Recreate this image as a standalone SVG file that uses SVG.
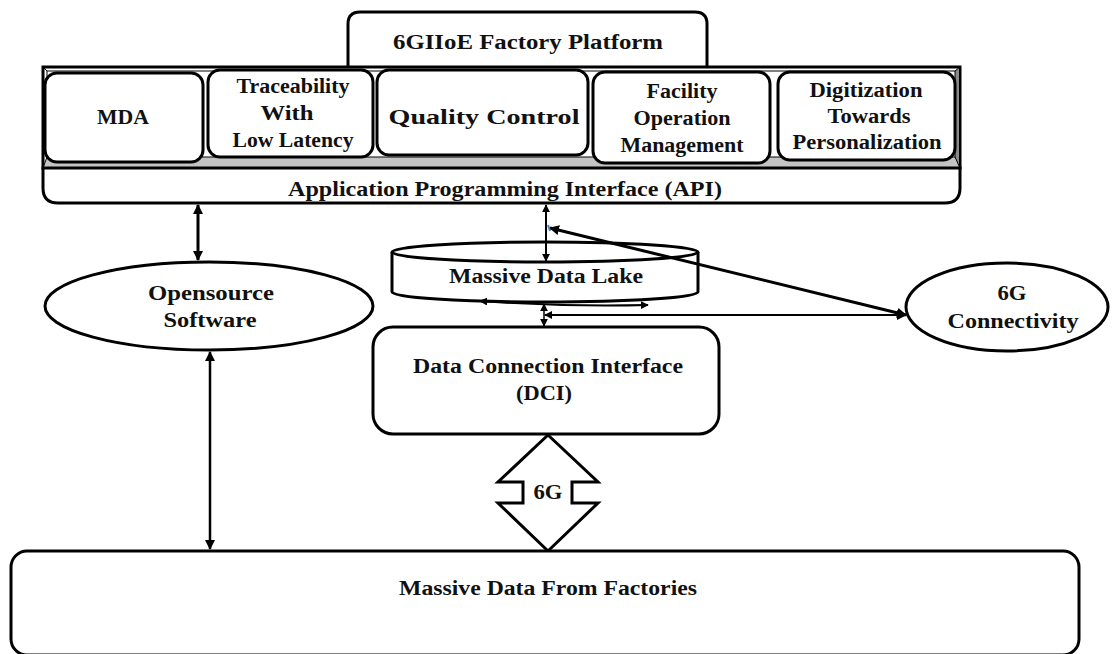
<svg xmlns="http://www.w3.org/2000/svg" width="1112" height="654" viewBox="0 0 1112 654">
  <defs>
    <style>
      .box { fill: #ffffff; stroke: #000000; stroke-width: 3; }
      .lbl { font-family: "Liberation Serif", "DejaVu Serif", serif; font-weight: bold; font-size: 20.5px; fill: #111111; text-anchor: middle; }
      .wire { fill: none; stroke: #000000; }
    </style>
    <marker id="head" viewBox="0 0 10 10" refX="9" refY="5" markerWidth="10" markerHeight="10" markerUnits="userSpaceOnUse" orient="auto-start-reverse">
      <path d="M0,0 L10,5 L0,10 z" fill="#000000"/>
    </marker>
    <marker id="headSmall" viewBox="0 0 10 10" refX="9" refY="5" markerWidth="8" markerHeight="8" markerUnits="userSpaceOnUse" orient="auto-start-reverse">
      <path d="M0,0 L10,5 L0,10 z" fill="#000000"/>
    </marker>
  </defs>

  <rect width="1112" height="654" fill="#ffffff"/>

  <!-- platform title tab -->
  <g id="platform-title">
    <path class="box" d="M348,67 L348,24 Q348,12 360,12 L695,12 Q707,12 707,24 L707,67"/>
    <text class="lbl" x="528" y="49" textLength="270" lengthAdjust="spacingAndGlyphs">6GIIoE Factory Platform</text>
  </g>

  <!-- beveled frame holding the application tiles -->
  <g id="platform-frame">
    <rect x="43" y="67" width="917" height="101" fill="#ffffff" stroke="#000000" stroke-width="3"/>
    <polygon points="44,167 959,167 955,157 47,157" fill="#c4c4c4"/>
    <polygon points="959,68 959,167 955,157 955,71" fill="#8a8a8a"/>
    <rect x="47" y="71" width="908" height="86" fill="none" stroke="#000000" stroke-width="1"/>
    <line x1="43" y1="67" x2="47" y2="71" stroke="#000000" stroke-width="1"/>
    <line x1="43" y1="168" x2="47" y2="157" stroke="#000000" stroke-width="1"/>
    <line x1="960" y1="67" x2="955" y2="71" stroke="#000000" stroke-width="1"/>
    <line x1="960" y1="168" x2="955" y2="157" stroke="#000000" stroke-width="1"/>
  </g>

  <g id="tile-mda">
    <rect class="box" x="45" y="73" width="158" height="89" rx="12"/>
    <text class="lbl" x="123" y="124" textLength="52" lengthAdjust="spacingAndGlyphs">MDA</text>
  </g>

  <g id="tile-traceability">
    <rect class="box" x="208" y="70" width="165" height="87" rx="12"/>
    <text class="lbl" x="293" y="93" textLength="113" lengthAdjust="spacingAndGlyphs">Traceability</text>
    <text class="lbl" x="287" y="120" textLength="53" lengthAdjust="spacingAndGlyphs">With</text>
    <text class="lbl" x="293" y="147" textLength="121" lengthAdjust="spacingAndGlyphs">Low Latency</text>
  </g>

  <g id="tile-quality">
    <rect class="box" x="377" y="70" width="211" height="85" rx="12"/>
    <text class="lbl" x="484" y="124" textLength="191" lengthAdjust="spacingAndGlyphs">Quality Control</text>
  </g>

  <g id="tile-facility">
    <rect class="box" x="593" y="72" width="177" height="91" rx="12"/>
    <text class="lbl" x="682" y="98" textLength="71" lengthAdjust="spacingAndGlyphs">Facility</text>
    <text class="lbl" x="682" y="125" textLength="97" lengthAdjust="spacingAndGlyphs">Operation</text>
    <text class="lbl" x="682" y="152" textLength="123" lengthAdjust="spacingAndGlyphs">Management</text>
  </g>

  <g id="tile-digitization">
    <rect class="box" x="778" y="72" width="177" height="88" rx="12"/>
    <text class="lbl" x="866" y="97" textLength="113" lengthAdjust="spacingAndGlyphs">Digitization</text>
    <text class="lbl" x="869" y="123" textLength="83" lengthAdjust="spacingAndGlyphs">Towards</text>
    <text class="lbl" x="867" y="149" textLength="149" lengthAdjust="spacingAndGlyphs">Personalization</text>
  </g>

  <!-- API bar under the frame -->
  <g id="api">
    <path class="box" d="M43,168 L43,188 Q43,203 58,203 L945,203 Q960,203 960,188 L960,168 Z"/>
    <text class="lbl" x="505" y="196" textLength="434" lengthAdjust="spacingAndGlyphs">Application Programming Interface (API)</text>
  </g>

  <g id="opensource">
    <ellipse class="box" cx="209" cy="306" rx="164" ry="44"/>
    <text class="lbl" x="211" y="300" textLength="126" lengthAdjust="spacingAndGlyphs">Opensource</text>
    <text class="lbl" x="210" y="327" textLength="93" lengthAdjust="spacingAndGlyphs">Software</text>
  </g>

  <g id="data-lake">
    <path class="box" d="M392,252 L392,292 A153,10 0 0 0 698,292 L698,252"/>
    <ellipse class="box" cx="545" cy="252" rx="153" ry="10"/>
    <text class="lbl" x="546" y="283" textLength="194" lengthAdjust="spacingAndGlyphs">Massive Data Lake</text>
  </g>

  <g id="connectivity">
    <ellipse class="box" cx="1007" cy="307" rx="101" ry="44"/>
    <text class="lbl" x="1012" y="300" textLength="29" lengthAdjust="spacingAndGlyphs">6G</text>
    <text class="lbl" x="1013" y="328" textLength="131" lengthAdjust="spacingAndGlyphs">Connectivity</text>
  </g>

  <g id="dci">
    <rect class="box" x="373" y="327" width="346" height="107" rx="20"/>
    <text class="lbl" x="548" y="373" textLength="270" lengthAdjust="spacingAndGlyphs">Data Connection Interface</text>
    <text class="lbl" x="544" y="400" textLength="56" lengthAdjust="spacingAndGlyphs">(DCI)</text>
  </g>

  <g id="link-6g">
    <polygon class="box" points="548,435 598,482 572,482 572,503 598,503 548,551 498,503 523,503 523,482 498,482" stroke-linejoin="miter"/>
    <text class="lbl" x="548" y="499" textLength="29" lengthAdjust="spacingAndGlyphs">6G</text>
  </g>

  <g id="factories">
    <rect class="box" x="11" y="551" width="1068" height="104" rx="16"/>
    <text class="lbl" x="548" y="595" textLength="298" lengthAdjust="spacingAndGlyphs">Massive Data From Factories</text>
  </g>

  <!-- connectors -->
  <g id="connectors">
    <line class="wire" x1="198" y1="205" x2="198" y2="260" stroke-width="3" marker-start="url(#head)" marker-end="url(#head)"/>
    <line class="wire" x1="210" y1="352" x2="210" y2="549" stroke-width="2.5" marker-start="url(#head)" marker-end="url(#head)"/>
    <line class="wire" x1="546" y1="205" x2="546" y2="261" stroke-width="2" marker-start="url(#headSmall)" marker-end="url(#headSmall)"/>
    <line class="wire" x1="550" y1="228" x2="906" y2="315" stroke-width="3" marker-start="url(#head)" marker-end="url(#head)"/>
    <line x1="548" y1="225" x2="550" y2="231" stroke="#4a7fd0" stroke-width="2"/>
    <line class="wire" x1="545" y1="315" x2="906" y2="315" stroke-width="2" marker-start="url(#headSmall)" marker-end="url(#head)"/>
    <path class="wire" d="M480,301 Q563,307 648,305" stroke-width="2" marker-start="url(#headSmall)" marker-end="url(#headSmall)"/>
    <line class="wire" x1="544" y1="304" x2="544" y2="326" stroke-width="1.5" marker-start="url(#headSmall)" marker-end="url(#headSmall)"/>
  </g>
</svg>
